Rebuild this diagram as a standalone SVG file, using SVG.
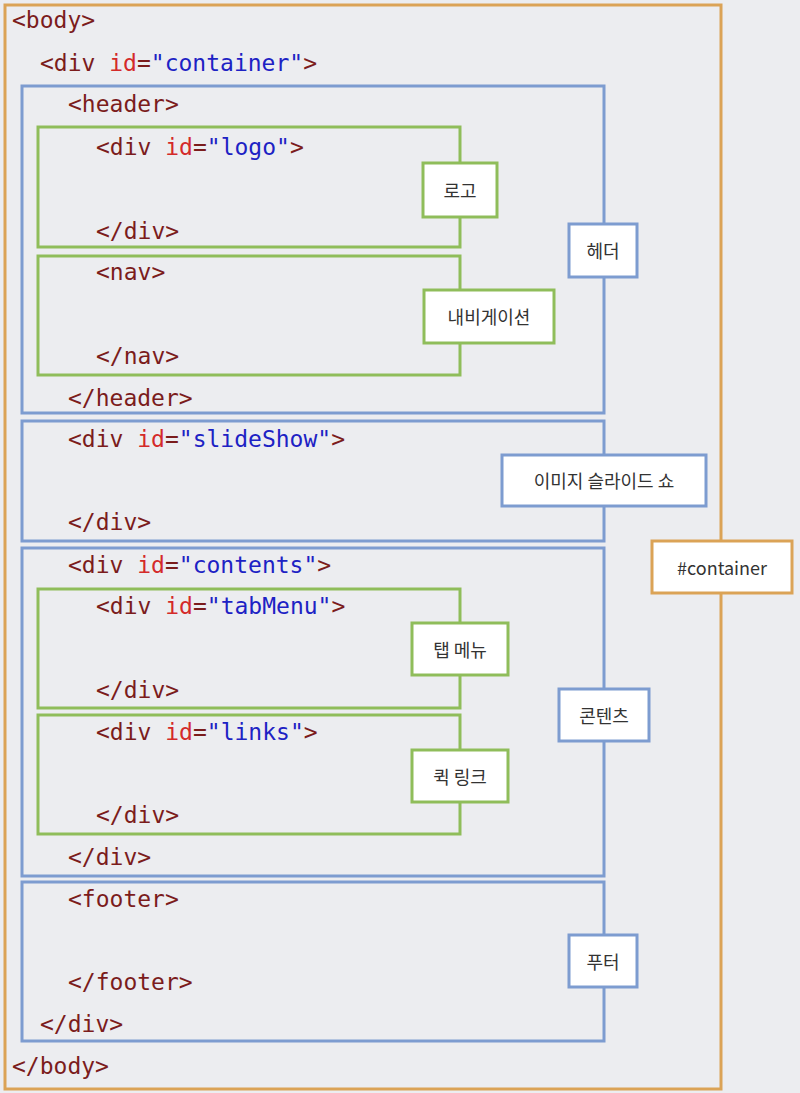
<svg xmlns="http://www.w3.org/2000/svg" width="800" height="1093" viewBox="0 0 800 1093">
<style>
.c{font-family:"DejaVu Sans Mono","Liberation Mono",monospace;font-size:23px;fill:#7b1c1c}
.i{fill:#d42a2a}.s{fill:#1d22c4}
.o{fill:none;stroke:#dba356;stroke-width:3}
.b{fill:none;stroke:#7d9cd0;stroke-width:3}
.g{fill:none;stroke:#8fbd5a;stroke-width:3}
.lo{fill:#fff;stroke:#dba356;stroke-width:3}
.lb{fill:#fff;stroke:#7d9cd0;stroke-width:3}
.lg{fill:#fff;stroke:#8fbd5a;stroke-width:3}
.t{font-family:"Noto Sans CJK KR","Noto Sans",sans-serif;font-size:18px;fill:#333;text-anchor:middle;dominant-baseline:central}
</style>
<rect width="800" height="1093" fill="#ecedf0"/>
<g id="body"><rect class="o" x="5" y="5" width="716" height="1084"/></g>
<g id="header"><rect class="b" x="22" y="86" width="582" height="327"/></g>
<g id="slideShow"><rect class="b" x="22" y="421" width="582" height="120"/></g>
<g id="contents"><rect class="b" x="22" y="548" width="582" height="328"/></g>
<g id="footer"><rect class="b" x="22" y="882" width="582" height="159"/></g>
<g id="logo"><rect class="g" x="38" y="127" width="422" height="120"/></g>
<g id="nav"><rect class="g" x="38" y="256" width="422" height="119"/></g>
<g id="tabMenu"><rect class="g" x="38" y="589" width="422" height="119"/></g>
<g id="links"><rect class="g" x="38" y="715" width="422" height="119"/></g>
<g id="code" class="c">
<text x="12" y="28">&lt;body&gt;</text>
<text x="40" y="71">&lt;div <tspan class="i">id</tspan>=<tspan class="s">"container"</tspan>&gt;</text>
<text x="68" y="112">&lt;header&gt;</text>
<text x="96" y="155">&lt;div <tspan class="i">id</tspan>=<tspan class="s">"logo"</tspan>&gt;</text>
<text x="96" y="239">&lt;/div&gt;</text>
<text x="96" y="280">&lt;nav&gt;</text>
<text x="96" y="364">&lt;/nav&gt;</text>
<text x="68" y="406">&lt;/header&gt;</text>
<text x="68" y="447">&lt;div <tspan class="i">id</tspan>=<tspan class="s">"slideShow"</tspan>&gt;</text>
<text x="68" y="530">&lt;/div&gt;</text>
<text x="68" y="573">&lt;div <tspan class="i">id</tspan>=<tspan class="s">"contents"</tspan>&gt;</text>
<text x="96" y="614">&lt;div <tspan class="i">id</tspan>=<tspan class="s">"tabMenu"</tspan>&gt;</text>
<text x="96" y="698">&lt;/div&gt;</text>
<text x="96" y="740">&lt;div <tspan class="i">id</tspan>=<tspan class="s">"links"</tspan>&gt;</text>
<text x="96" y="823">&lt;/div&gt;</text>
<text x="68" y="865">&lt;/div&gt;</text>
<text x="68" y="907">&lt;footer&gt;</text>
<text x="68" y="990">&lt;/footer&gt;</text>
<text x="40" y="1032">&lt;/div&gt;</text>
<text x="12" y="1074">&lt;/body&gt;</text>
</g>
<g id="labels">
<rect class="lg" x="423" y="163" width="74" height="54"/><text class="t" x="460" y="190">로고</text>
<rect class="lg" x="424" y="290" width="130" height="53"/><text class="t" x="489" y="316">내비게이션</text>
<rect class="lb" x="569" y="224" width="68" height="53"/><text class="t" x="603" y="250">헤더</text>
<rect class="lb" x="502" y="455" width="204" height="51"/><text class="t" x="604" y="480">이미지 슬라이드 쇼</text>
<rect class="lo" x="652" y="541" width="140" height="52"/><text class="t" x="722" y="567">#container</text>
<rect class="lg" x="412" y="623" width="96" height="52"/><text class="t" x="460" y="649">탭 메뉴</text>
<rect class="lb" x="559" y="689" width="90" height="52"/><text class="t" x="604" y="715">콘텐츠</text>
<rect class="lg" x="412" y="750" width="96" height="52"/><text class="t" x="460" y="776">퀵 링크</text>
<rect class="lb" x="569" y="935" width="68" height="52"/><text class="t" x="603" y="961">푸터</text>
</g>
</svg>
